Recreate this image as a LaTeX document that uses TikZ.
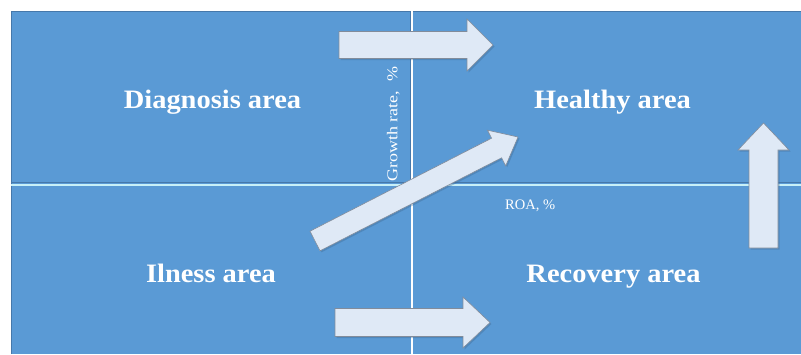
\documentclass[tikz,border=0pt]{standalone}
\usepackage{fontspec}
\setmainfont{Liberation Serif}
\newfontfamily\areafont[FakeStretch=1.07]{Liberation Serif}
\newfontfamily\axisfont[FakeStretch=1.2]{Liberation Serif}
\definecolor{panelblue}{RGB}{90,154,213}
\definecolor{paneledge}{RGB}{70,120,170}
\definecolor{splitcyan}{RGB}{200,240,248}
\definecolor{arrowfill}{RGB}{223,233,246}
\definecolor{arrowedge}{RGB}{130,140,155}
\definecolor{arrowshade}{RGB}{60,100,140}
\tikzset{
  area/.style={text=white, inner sep=0pt, anchor=base,
    font=\areafont\fontsize{26.6}{30}\selectfont\bfseries},
  axislabel/.style={text=white, inner sep=0pt,
    font=\axisfont\fontsize{15}{17}\selectfont},
  roalabel/.style={text=white, inner sep=0pt,
    font=\fontsize{14.5}{16}\selectfont},
  blockarrow/.style={fill=arrowfill, draw=arrowedge, line width=0.6pt, line join=miter},
  blockshade/.style={fill=arrowshade, opacity=0.35},
}
\begin{document}
\begin{tikzpicture}[x=1pt, y=-1pt]
  \useasboundingbox (0,0) rectangle (801,354);
  \fill[white] (0,0) rectangle (801,354);

  % quadrant field
  \fill[panelblue] (11,11) rectangle (801,354);
  \draw[paneledge, line width=0.8pt] (11,354) -- (11,11) -- (801,11);
  % vertical split
  \draw[paneledge, line width=0.6pt] (410.3,11) -- (410.3,183);
  \draw[white, line width=2pt] (412,11) -- (412,354);
  % horizontal split
  \draw[paneledge, line width=0.8pt] (11,182.8) -- (801,182.8);
  \draw[splitcyan, line width=2.4pt] (11,184.8) -- (801,184.8);

  % block arrows: soft shadow first, then the arrow body
  \newcommand\arrowtop{(339,31.5) -- (467,31.5) -- (467,19) -- (493,45) -- (467,71) -- (467,58.5) -- (339,58.5) -- cycle}
  \newcommand\arrowbottom{(335,308.5) -- (463,308.5) -- (463,297) -- (490,322.5) -- (463,348) -- (463,336.5) -- (335,336.5) -- cycle}
  \newcommand\arrowup{(749,248) -- (749,150) -- (738,150) -- (763.5,123) -- (789,150) -- (778,150) -- (778,248) -- cycle}
  \newcommand\arrowdiag{(310.0,231.2) -- (491.6,138.2) -- (487.5,130.2) -- (518,137) -- (505.7,165.8) -- (501.6,157.8) -- (320.0,250.8) -- cycle}

  \foreach \shape in {\arrowtop,\arrowbottom,\arrowup,\arrowdiag}{
    \fill[blockshade, shift={(1.5,1.5)}] \shape;
  }
  \draw[blockarrow] \arrowtop;
  \draw[blockarrow] \arrowbottom;
  \draw[blockarrow] \arrowup;
  \draw[blockarrow] \arrowdiag;

  % quadrant names
  \node[area] (diag) at (212.5,108) {Diagnosis area};
  \node[area] (heal) at (612.5,108) {Healthy area};
  \node[area] (ill)  at (211,282)   {Ilness area};
  \node[area] (rec)  at (613.5,282) {Recovery area};

  % axis labels
  \node[axislabel, rotate=90, anchor=base west] (growth) at (397.3,182) {Growth rate,\ \ \%};
  \node[roalabel, anchor=base west] (roa) at (505,209) {ROA, \%};
\end{tikzpicture}
\end{document}
